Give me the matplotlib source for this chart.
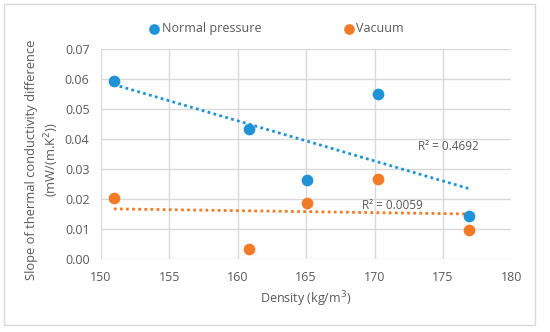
import numpy as np
import matplotlib.pyplot as plt
from matplotlib.patches import Rectangle

density = [150.96, 160.8, 165.05, 170.27, 176.9]
normal = [0.0595, 0.0434, 0.0262, 0.0550, 0.0143]
vacuum = [0.0203, 0.0033, 0.0186, 0.0268, 0.0097]

BLUE = "#1f93d6"
ORANGE = "#f47b26"
GREY = "#595959"

plt.rcParams["font.family"] = ["Open Sans", "DejaVu Sans"]

fig = plt.figure(figsize=(5.5, 3.32), dpi=100)
fig.patches.append(Rectangle((0.008, 0.021), 0.965, 0.966, transform=fig.transFigure,
                             fill=False, ec="#d9d9d9", lw=1))
ax = fig.add_axes([0.183, 0.221, 0.747, 0.630])

for y, c, r2, pos in [(normal, BLUE, "R² = 0.4692", (173.2, 0.0375)),
                      (vacuum, ORANGE, "R² = 0.0059", (169.05, 0.0178))]:
    k, b = np.polyfit(density, y, 1)
    xs = np.array([min(density), max(density)])
    ax.plot(xs, k * xs + b, ls=(0, (1, 1.2)), lw=2, color=c, zorder=2)
    ax.text(*pos, r2, color=GREY, fontsize=8.5, va="center")

ax.scatter(density, normal, s=55, color=BLUE, zorder=3, label="Normal pressure")
ax.scatter(density, vacuum, s=55, color=ORANGE, zorder=3, label="Vacuum")

ax.set_xlim(150, 180)
ax.set_ylim(0, 0.07)
ax.set_xticks(np.arange(150, 181, 5))
ax.set_yticks(np.arange(0, 0.071, 0.01))
ax.set_yticklabels([f"{v:.2f}" for v in np.arange(0, 0.071, 0.01)])
ax.grid(color="#d9d9d9", lw=1)
ax.set_axisbelow(True)
for s in ax.spines.values():
    s.set_visible(False)
ax.tick_params(length=0, labelsize=9, labelcolor=GREY)
ax.tick_params(axis="x", pad=9)
ax.tick_params(axis="y", pad=8)

ax.set_xlabel("Density (kg/m$^3$)", color=GREY, fontsize=9, labelpad=4)
fig.text(0.078, 0.52, "Slope of thermal conductivity difference\n(mW/(m.K$^2$))",
         rotation=90, ha="center", va="center", color=GREY, fontsize=9.3,
         linespacing=1.35)

fig.legend(loc="center", bbox_to_anchor=(0.502, 0.913), ncol=2, frameon=False,
           fontsize=9, labelcolor=GREY, handletextpad=0.1, columnspacing=6.5,
           handlelength=1, markerscale=0.9)

fig.savefig("out.png", dpi=100)
